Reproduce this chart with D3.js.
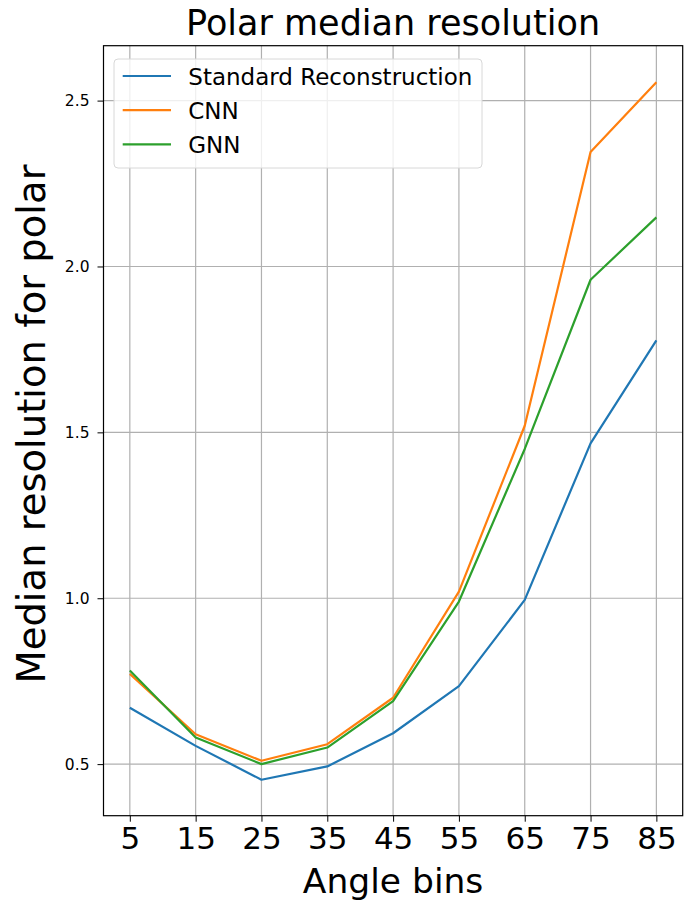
<!DOCTYPE html>
<html>
<head>
<meta charset="utf-8">
<script src="https://cdn.jsdelivr.net/npm/d3@7"></script>
<style>
  html, body { margin: 0; padding: 0; background: #fff; overflow: hidden; }
  svg { display: block; }
  text { font-family: "DejaVu Sans", sans-serif; fill: #000; }
</style>
</head>
<body>
<div id="chart"></div>
<script>
var angles = [5, 15, 25, 35, 45, 55, 65, 75, 85];
var standardVals = [0.67, 0.555, 0.453, 0.493, 0.593, 0.735, 0.995, 1.467, 1.777];
var cnnVals = [0.772, 0.59, 0.51, 0.56, 0.70, 1.02, 1.52, 2.345, 2.555];
var gnnVals = [0.782, 0.58, 0.50, 0.55, 0.69, 0.99, 1.45, 1.96, 2.148];
var yTicks = [0.5, 1.0, 1.5, 2.0, 2.5];
var seriesNames = ['Standard Reconstruction', 'CNN', 'GNN'];
var seriesColors = ['#1f77b4', '#ff7f0e', '#2ca02c'];

var outerWidth = 684, outerHeight = 903;
var margin = { left: 103.5, top: 45.7, right: 1.3, bottom: 87.3 };
var innerWidth = outerWidth - margin.left - margin.right;
var innerHeight = outerHeight - margin.top - margin.bottom;

var svg = d3.select('#chart').append('svg')
    .attr('width', outerWidth)
    .attr('height', outerHeight);
var g = svg.append('g')
    .attr('transform', 'translate(' + margin.left + ',' + margin.top + ')');

// matplotlib style 5% padding
var xScale = d3.scaleLinear().domain([1, 89]).range([0, innerWidth]);
var yScale = d3.scaleLinear().domain([0.3445, 2.6655]).range([innerHeight, 0]);

// grid
g.append('g').selectAll('line').data(angles).enter().append('line')
    .attr('x1', function (d) { return xScale(d); })
    .attr('x2', function (d) { return xScale(d); })
    .attr('y1', 0).attr('y2', innerHeight)
    .attr('stroke', '#b0b0b0').attr('stroke-width', 1.2);
g.append('g').selectAll('line').data(yTicks).enter().append('line')
    .attr('y1', function (d) { return yScale(d); })
    .attr('y2', function (d) { return yScale(d); })
    .attr('x1', 0).attr('x2', innerWidth)
    .attr('stroke', '#b0b0b0').attr('stroke-width', 1.2);

// axes
var xAxis = d3.axisBottom(xScale).tickValues(angles).tickSize(6).tickPadding(5);
var yAxis = d3.axisLeft(yScale).tickValues(yTicks).tickSize(6).tickPadding(8)
    .tickFormat(d3.format('.1f'));

var xAxisG = g.append('g')
    .attr('transform', 'translate(0,' + innerHeight + ')')
    .call(xAxis);
xAxisG.select('.domain').remove();
xAxisG.selectAll('text').style('font-size', '31px').attr('fill', '#000');
xAxisG.selectAll('line').attr('stroke', '#000').attr('stroke-width', 1);

var yAxisG = g.append('g').call(yAxis);
yAxisG.select('.domain').remove();
yAxisG.selectAll('text').style('font-size', '15.5px').attr('fill', '#222');
yAxisG.selectAll('line').attr('stroke', '#000').attr('stroke-width', 1);

// lines
var line = d3.line()
    .x(function (d) { return xScale(d.x); })
    .y(function (d) { return yScale(d.y); });

[standardVals, cnnVals, gnnVals].forEach(function (vals, i) {
    var pts = angles.map(function (a, j) { return { x: a, y: vals[j] }; });
    g.append('path')
        .attr('d', line(pts))
        .attr('fill', 'none')
        .attr('stroke', seriesColors[i])
        .attr('stroke-width', 2.2)
        .attr('stroke-linejoin', 'round');
});

// frame
g.append('rect')
    .attr('width', innerWidth).attr('height', innerHeight)
    .attr('fill', 'none').attr('stroke', '#000').attr('stroke-width', 1.2);

// legend
var leg = g.append('g').attr('transform', 'translate(10.5,13.3)');
leg.append('rect')
    .attr('width', 368).attr('height', 109).attr('rx', 4)
    .attr('fill', 'rgba(255,255,255,0.8)')
    .attr('stroke', '#d8d8d8').attr('stroke-width', 1);
seriesNames.forEach(function (name, i) {
    var yy = 17 + i * 34.2;
    leg.append('line')
        .attr('x1', 8.7).attr('x2', 57).attr('y1', yy).attr('y2', yy)
        .attr('stroke', seriesColors[i]).attr('stroke-width', 2.2);
    leg.append('text')
        .attr('x', 74.3).attr('y', yy + 8.5)
        .style('font-size', '23px')
        .attr('fill', '#222')
        .text(name);
});

// title and labels
svg.append('text')
    .attr('x', margin.left + innerWidth / 2).attr('y', 35)
    .style('text-anchor', 'middle').style('font-size', '35px')
    .text('Polar median resolution');
svg.append('text')
    .attr('x', margin.left + innerWidth / 2).attr('y', 893)
    .style('text-anchor', 'middle').style('font-size', '34.5px')
    .text('Angle bins');
svg.append('text')
    .attr('transform', 'translate(45,424) rotate(-90)')
    .style('text-anchor', 'middle').style('font-size', '38.5px')
    .text('Median resolution for polar');
</script>
</body>
</html>
